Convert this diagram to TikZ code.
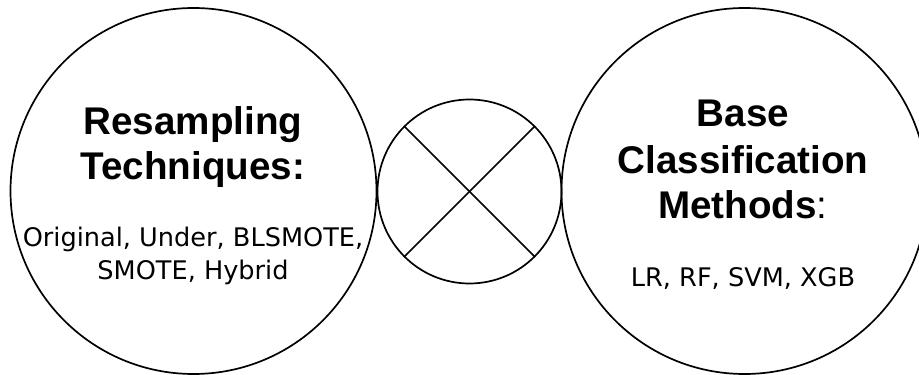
\documentclass[tikz,border=0pt]{standalone}
\usepackage{fontspec}
\newfontfamily\arialf{Liberation Sans}
\newfontfamily\dejaf{DejaVu Sans}
\begin{document}
\begin{tikzpicture}[x=1pt,y=1pt,
  bigcirc/.style={circle,draw=black,line width=1.7pt,minimum size=366pt,inner sep=0pt,outer sep=0pt},
  midcirc/.style={circle,draw=black,line width=1.7pt,minimum size=184pt,inner sep=0pt,outer sep=0pt},
  crossline/.style={draw=black,line width=1.7pt},
  head/.style={anchor=base,inner sep=0pt,font=\arialf\bfseries\fontsize{38.6}{45}\selectfont},
  body/.style={anchor=base,inner sep=0pt,font=\dejaf\fontsize{25.6}{33}\selectfont}
]
\useasboundingbox (0,0) rectangle (919,375);
\fill[white] (0,0) rectangle (919,375);
\node[bigcirc] (left) at (193.5,184) {};
\node[midcirc] (mid) at (469.5,183.5) {};
\node[bigcirc] (right) at (744.5,184) {};
\draw[crossline] (mid.45) -- (mid.225);
\draw[crossline] (mid.135) -- (mid.315);
\node[head] (l1) at (193,240) {Resampling};
\node[head] (l2) at (193,195) {Techniques:};
\node[body] (l3) at (193,128.5) {Original, Under, BLSMOTE,};
\node[body] (l4) at (193,95) {SMOTE, Hybrid};
\node[head] (r1) at (743,248.3) {Base};
\node[head] (r2) at (743,201.7) {Classification};
\node[head] (r3) at (743,156.7) {Methods{\mdseries:}};
\node[body] (r4) at (743,88.3) {LR, RF, SVM, XGB};
\end{tikzpicture}
\end{document}
